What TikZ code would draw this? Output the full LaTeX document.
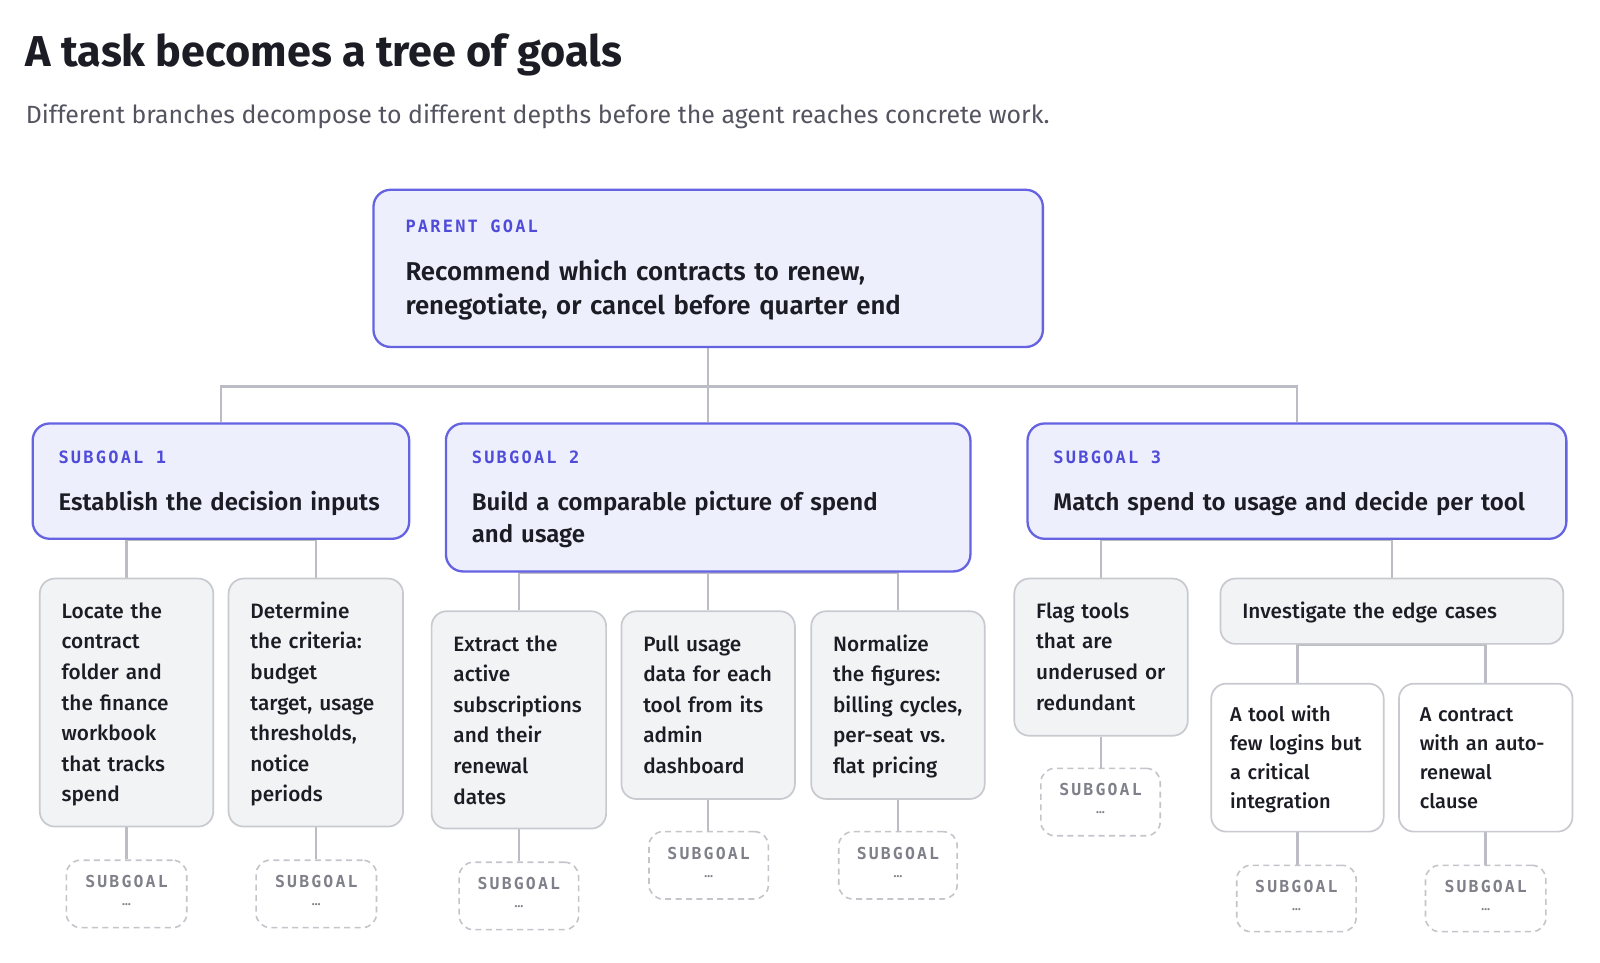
\documentclass[tikz,border=0pt]{standalone}
\usepackage{fontspec}
\setmainfont{Fira Sans}
\newfontfamily\firamed{Fira Sans Medium}
\newfontfamily\firasemi{Fira Sans SemiBold}
\newfontfamily\labelmono{DejaVu Sans Mono}[LetterSpace=13]
\usetikzlibrary{fit,backgrounds,calc}
\definecolor{bluebd}{RGB}{101,99,226}
\definecolor{bluefill}{RGB}{238,239,252}
\definecolor{labelblue}{RGB}{80,76,218}
\definecolor{grayfill}{RGB}{242,243,245}
\definecolor{graybd}{RGB}{200,202,208}
\definecolor{dashbd}{RGB}{196,197,203}
\definecolor{conncol}{RGB}{188,189,196}
\definecolor{ink}{RGB}{28,28,36}
\definecolor{subgray}{RGB}{84,84,96}
\definecolor{stubgray}{RGB}{128,128,138}
\tikzset{
  goalbox/.style={draw=bluebd, fill=bluefill, line width=1.15pt, rounded corners=8.5pt, inner sep=0pt},
  leafbox/.style={draw=graybd, fill=grayfill, line width=0.85pt, rounded corners=7.5pt, inner sep=0pt},
  casebox/.style={draw=graybd, fill=white, line width=0.85pt, rounded corners=7.5pt, inner sep=0pt},
  stubbox/.style={draw=dashbd, fill=white, line width=0.8pt, dash pattern=on 3pt off 2.2pt, rounded corners=7pt, inner sep=0pt},
  conn/.style={draw=conncol, line width=1.3pt},
  lbl/.style={anchor=base west, inner sep=0pt, text=labelblue, font=\labelmono\bfseries\fontsize{8.5pt}{10pt}\selectfont},
  stublbl/.style={anchor=base, inner sep=0pt, text=stubgray, font=\labelmono\bfseries\fontsize{8.25pt}{10pt}\selectfont},
  stubdots/.style={anchor=base, inner sep=0pt, text=stubgray, font=\bfseries\fontsize{6pt}{7pt}\selectfont},
  ptxt/.style={anchor=base west, inner sep=0pt, align=left, text width=400pt, text=ink, font=\firasemi\fontsize{12.9pt}{16.8pt}\selectfont},
  gtxt/.style={anchor=base west, inner sep=0pt, align=left, text width=300pt, text=ink, font=\firasemi\fontsize{12.0pt}{16.3pt}\selectfont},
  ltxt/.style={anchor=base west, inner sep=0pt, align=left, text width=150pt, text=ink, font=\firamed\fontsize{10.4pt}{15.3pt}\selectfont},
  ctxt/.style={anchor=base west, inner sep=0pt, align=left, text width=150pt, text=ink, font=\firamed\fontsize{10.0pt}{14.55pt}\selectfont},
}
\begin{document}
\begin{tikzpicture}[x=0.5102pt, y=-0.5102pt]
\useasboundingbox (0,0) rectangle (1568,943.7);

% title
\node[anchor=base west, inner sep=0pt, text=ink, font=\bfseries\fontsize{21.6pt}{26pt}\selectfont] (title) at (25,65) {A task becomes a tree of goals};
\node[anchor=base west, inner sep=0pt, text=subgray, font=\fontsize{12.45pt}{14pt}\selectfont] (subtitle) at (25,121) {Different branches decompose to different depths before the agent reaches concrete work.};

% parent
\node[goalbox, fit={(366,186) (1022,340)}] (p) {};
\node[lbl] (pl) at (397,228) {PARENT GOAL};
\node[ptxt] (pt) at (397,275) {Recommend which contracts to renew,\\renegotiate, or cancel before quarter end};

% subgoals
\node[goalbox, fit={(32,415) (401,528)}] (s1) {};
\node[lbl] (s1l) at (57,454) {SUBGOAL 1};
\node[gtxt] (s1t) at (57,500) {Establish the decision inputs};

\node[goalbox, fit={(437,415) (951,560)}] (s2) {};
\node[lbl] (s2l) at (462,454) {SUBGOAL 2};
\node[gtxt] (s2t) at (462,500) {Build a comparable picture of spend\\and usage};

\node[goalbox, fit={(1007,415) (1535,528)}] (s3) {};
\node[lbl] (s3l) at (1032,454) {SUBGOAL 3};
\node[gtxt] (s3t) at (1032,500) {Match spend to usage and decide per tool};

% leaves
\node[leafbox, fit={(39,567) (209,810)}] (a) {};
\node[ltxt] (at) at (60,606) {Locate the\\contract\\folder and\\the finance\\workbook\\that tracks\\spend};
\node[leafbox, fit={(224,567) (395,810)}] (b) {};
\node[ltxt] (bt) at (245,606) {Determine\\the criteria:\\budget\\target, usage\\thresholds,\\notice\\periods};
\node[leafbox, fit={(423,599) (594,812)}] (c) {};
\node[ltxt] (ct) at (444,638) {Extract the\\active\\subscriptions\\and their\\renewal\\dates};
\node[leafbox, fit={(609,599) (779,783)}] (d) {};
\node[ltxt] (dt) at (630,638) {Pull usage\\data for each\\tool from its\\admin\\dashboard};
\node[leafbox, fit={(795,599) (965,783)}] (e) {};
\node[ltxt] (et) at (816,638) {Normalize\\the figures:\\billing cycles,\\per-seat vs.\\flat pricing};
\node[leafbox, fit={(994,567) (1164,721)}] (f) {};
\node[ltxt] (ft) at (1015,606) {Flag tools\\that are\\underused or\\redundant};
\node[leafbox, fit={(1196,567) (1532,631)}] (g) {};
\node[ltxt] (gt) at (1217,606) {Investigate the edge cases};
\node[casebox, fit={(1187,670) (1356,815)}] (h) {};
\node[ctxt] (ht) at (1205,707) {A tool with\\few logins but\\a critical\\integration};
\node[casebox, fit={(1371,670) (1541,815)}] (i) {};
\node[ctxt] (it) at (1391,707) {A contract\\with an auto-\\renewal\\clause};

% stubs
\foreach \nm/\xa/\ya/\xb/\yb in {da/65/843/183/909, db/251/843/369/909, dc/450/845/567/911, dd/636/815/753/881, de/822/815/938/881, df/1020/753/1137/819, dh/1212/848/1329/913, di/1397/848/1515/913}{
  \node[stubbox, fit={(\xa,\ya) (\xb,\yb)}] (\nm) {};
  \node[stublbl] (\nm-l) at ($(\nm.center)+(0,-6)$) {SUBGOAL};
  \node[stubdots] (\nm-d) at ($(\nm.center)+(0,11.5)$) {…};
}

% connectors
\coordinate (bus) at (694,379);
\begin{scope}[on background layer]
  \fill[white] (0,0) rectangle (1568,943.7);
  \draw[conn] (p.south) -- (p.south |- bus) -| (s1.north);
  \draw[conn] (p.south |- bus) -| (s3.north);
  \draw[conn] (p.south) -- (s2.north);
  \draw[conn] (a.north) |- (s1.south) -| (b.north);
  \draw[conn] (c.north) |- (s2.south) -| (e.north);
  \draw[conn] (s2.south) -- (d.north);
  \draw[conn] (f.north) |- (s3.south) -| (g.north);
  \draw[conn] (h.north) |- (g.south) -| (i.north);
  \draw[conn] (a.south) -- (a.south |- da.north);
  \draw[conn] (b.south) -- (b.south |- db.north);
  \draw[conn] (c.south) -- (c.south |- dc.north);
  \draw[conn] (d.south) -- (d.south |- dd.north);
  \draw[conn] (e.south) -- (e.south |- de.north);
  \draw[conn] (f.south) -- (f.south |- df.north);
  \draw[conn] (h.south) -- (h.south |- dh.north);
  \draw[conn] (i.south) -- (i.south |- di.north);
\end{scope}
\end{tikzpicture}
\end{document}
